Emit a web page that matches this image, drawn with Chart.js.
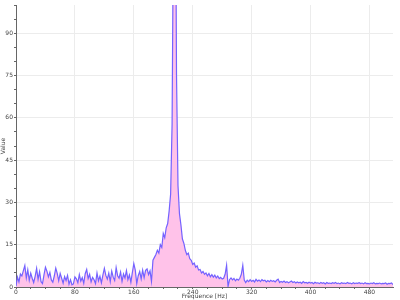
<!DOCTYPE html>
<html>
<head>
<meta charset="utf-8">
<script src="https://cdn.jsdelivr.net/npm/chart.js@4/dist/chart.umd.min.js"></script>
<style>
  html, body { margin: 0; padding: 0; background: #fff; }
  #chart { display: block; }
</style>
</head>
<body>
<canvas id="chart" width="400" height="300"></canvas>
<script>
// frequency bins [Hz]
const frequencies = [
  0, 2, 4, 6, 8, 10, 12, 14, 16, 18,
  20, 22, 24, 26, 28, 30, 32, 34, 36, 38,
  40, 42, 44, 46, 48, 50, 52, 54, 56, 58,
  60, 62, 64, 66, 68, 70, 72, 74, 76, 78,
  80, 82, 84, 86, 88, 90, 92, 94, 96, 98,
  100, 102, 104, 106, 108, 110, 112, 114, 116, 118,
  120, 122, 124, 126, 128, 130, 132, 134, 136, 138,
  140, 142, 144, 146, 148, 150, 152, 154, 156, 158,
  160, 162, 164, 166, 168, 170, 172, 174, 176, 178,
  180, 182, 184, 186, 188, 190, 192, 194, 196, 198,
  200, 202, 204, 206, 208, 210, 212, 214, 216, 218,
  220, 222, 224, 226, 228, 230, 232, 234, 236, 238,
  240, 242, 244, 246, 248, 250, 252, 254, 256, 258,
  260, 262, 264, 266, 268, 270, 272, 274, 276, 278,
  280, 282, 284, 286, 288, 290, 292, 294, 296, 298,
  300, 302, 304, 306, 308, 310, 312, 314, 316, 318,
  320, 322, 324, 326, 328, 330, 332, 334, 336, 338,
  340, 342, 344, 346, 348, 350, 352, 354, 356, 358,
  360, 362, 364, 366, 368, 370, 372, 374, 376, 378,
  380, 382, 384, 386, 388, 390, 392, 394, 396, 398,
  400, 402, 404, 406, 408, 410, 412, 414, 416, 418,
  420, 422, 424, 426, 428, 430, 432, 434, 436, 438,
  440, 442, 444, 446, 448, 450, 452, 454, 456, 458,
  460, 462, 464, 466, 468, 470, 472, 474, 476, 478,
  480, 482, 484, 486, 488, 490, 492, 494, 496, 498,
  500, 502, 504, 506, 508, 510, 512
];

// spectrum amplitude, one value per bin
const amplitude = [
  0.3, 3.5, 1.8, 4.6, 3.9, 5.8, 7.6, 3.2, 6.1, 2.4,
  4.9, 3.1, 1.6, 3.8, 6.6, 2.7, 5.4, 1.9, 1.2, 4.3,
  7.0, 5.6, 3.6, 5.2, 2.5, 1.7, 3.9, 6.7, 4.8, 2.2,
  4.8, 3.1, 1.4, 3.7, 2.3, 4.1, 1.0, 2.6, 0.8, 1.1,
  3.6, 2.9, 1.5, 4.4, 2.1, 3.3, 1.3, 4.7, 6.2, 3.0,
  4.5, 1.8, 3.4, 2.6, 1.2, 5.0, 2.2, 3.8, 1.5, 4.2,
  6.6, 4.1, 2.8, 4.9, 1.9, 5.6, 3.5, 2.3, 6.9, 4.0,
  3.1, 5.3, 2.0, 4.6, 3.2, 5.8, 2.6, 4.3, 1.7, 5.1,
  8.3, 6.0, 1.2, 4.0, 5.5, 2.9, 6.0, 3.3, 5.9, 6.4,
  4.4, 5.7, 2.0, 9.5, 10.5, 11.5, 13, 12, 15, 14,
  19, 17.5, 21, 22.5, 27, 33, 58, 140, 180, 75,
  36, 26, 22, 17, 15.5, 13, 11.5, 12, 10, 9.5,
  8, 8.5, 7, 7.5, 6, 6.2, 5, 5.5, 4.5, 5,
  4, 4.8, 3.6, 4.4, 3.5, 4.2, 3.2, 3.9, 3.0, 3.4,
  2.8, 3.1, 4.5, 7.7, 0.2, 2.6, 3.2, 2.5, 3.0, 2.2,
  2.8, 2.4, 3.1, 4.5, 7.7, 2.5, 1.6, 2.4, 1.9, 2.6,
  2.0, 2.4, 1.8, 2.7, 2.1, 2.5, 1.9, 2.6, 2.2, 2.4,
  1.8, 2.3, 1.9, 2.4, 2.0, 2.2, 1.8, 2.4, 2.8, 1.6,
  2.0, 1.7, 2.1, 1.6, 1.9, 1.5, 1.8, 2.1, 1.6, 1.9,
  1.4, 1.8, 1.5, 1.7, 1.3, 1.9, 1.5, 1.6, 1.3, 1.7,
  1.4, 1.6, 1.2, 1.7, 1.4, 1.5, 1.2, 1.6, 1.3, 1.5,
  1.1, 1.6, 1.3, 1.4, 1.2, 1.5, 1.3, 1.6, 1.2, 1.4,
  1.1, 1.5, 1.3, 1.4, 1.2, 1.6, 1.3, 1.4, 1.1, 1.5,
  1.2, 1.4, 1.3, 1.5, 1.2, 1.4, 1.1, 1.5, 1.2, 1.3,
  1.1, 1.4, 1.2, 1.5, 1.1, 1.3, 1.2, 1.4, 1.1, 1.3,
  1.2, 1.4, 1.0, 1.3, 1.2, 1.4, 0.9
];

// axis setup: labelled (major) steps and minor tick steps
const xMajorStep = 80;
const xMinorStep = 20;
const yMajorStep = 15;
const yMinorStep = 5;

const points = frequencies.map((f, i) => ({ x: f, y: amplitude[i] }));

const tickFont = { family: 'DejaVu Sans', size: 6 };
const gridColor = '#ececec';
const axisColor = '#666';

new Chart(document.getElementById('chart').getContext('2d'), {
  type: 'line',
  data: {
    datasets: [{
      label: 'Value',
      data: points,
      borderColor: '#7462ff',
      backgroundColor: '#ffc2e9',
      borderWidth: 1.2,
      pointRadius: 0,
      tension: 0,
      fill: 'origin',
    }],
  },
  options: {
    responsive: false,
    animation: false,
    devicePixelRatio: 1,
    layout: { padding: { top: 5, right: 7, left: 0, bottom: 0 } },
    plugins: {
      legend: { display: false },
      tooltip: { enabled: false },
    },
    scales: {
      x: {
        type: 'linear',
        min: 0,
        max: 512,
        afterFit: (s) => { s.height = 13; },
        afterBuildTicks: (s) => {
          s.ticks = s.ticks.filter((t) => t.value % xMinorStep === 0);
        },
        border: { color: axisColor, width: 1 },
        grid: {
          color: (ctx) => (ctx.tick && ctx.tick.value % xMajorStep === 0 && ctx.tick.value !== 0 ? gridColor : 'rgba(0,0,0,0)'),
          tickColor: axisColor,
          tickLength: 2,
        },
        ticks: {
          stepSize: xMinorStep,
          autoSkip: false,
          maxRotation: 0,
          padding: 0,
          color: '#444',
          font: tickFont,
          callback: (v) => (v % xMajorStep === 0 ? v : ''),
        },
        title: {
          display: true,
          text: 'Frequence [Hz]',
          color: '#444',
          font: tickFont,
          padding: { top: 0, bottom: 0 },
        },
      },
      y: {
        min: 0,
        max: 100,
        afterFit: (s) => { s.width = 16; },
        border: { color: axisColor, width: 1 },
        grid: {
          color: (ctx) => (ctx.tick && ctx.tick.value % yMajorStep === 0 && ctx.tick.value !== 0 ? gridColor : 'rgba(0,0,0,0)'),
          tickColor: axisColor,
          tickLength: 2,
        },
        ticks: {
          stepSize: yMinorStep,
          autoSkip: false,
          padding: 1,
          color: '#444',
          font: tickFont,
          callback: (v) => (v % yMajorStep === 0 ? v : ''),
        },
        title: {
          display: true,
          text: 'Value',
          color: '#444',
          font: tickFont,
          padding: { top: 0, bottom: 0 },
        },
      },
    },
  },
});
</script>
</body>
</html>
